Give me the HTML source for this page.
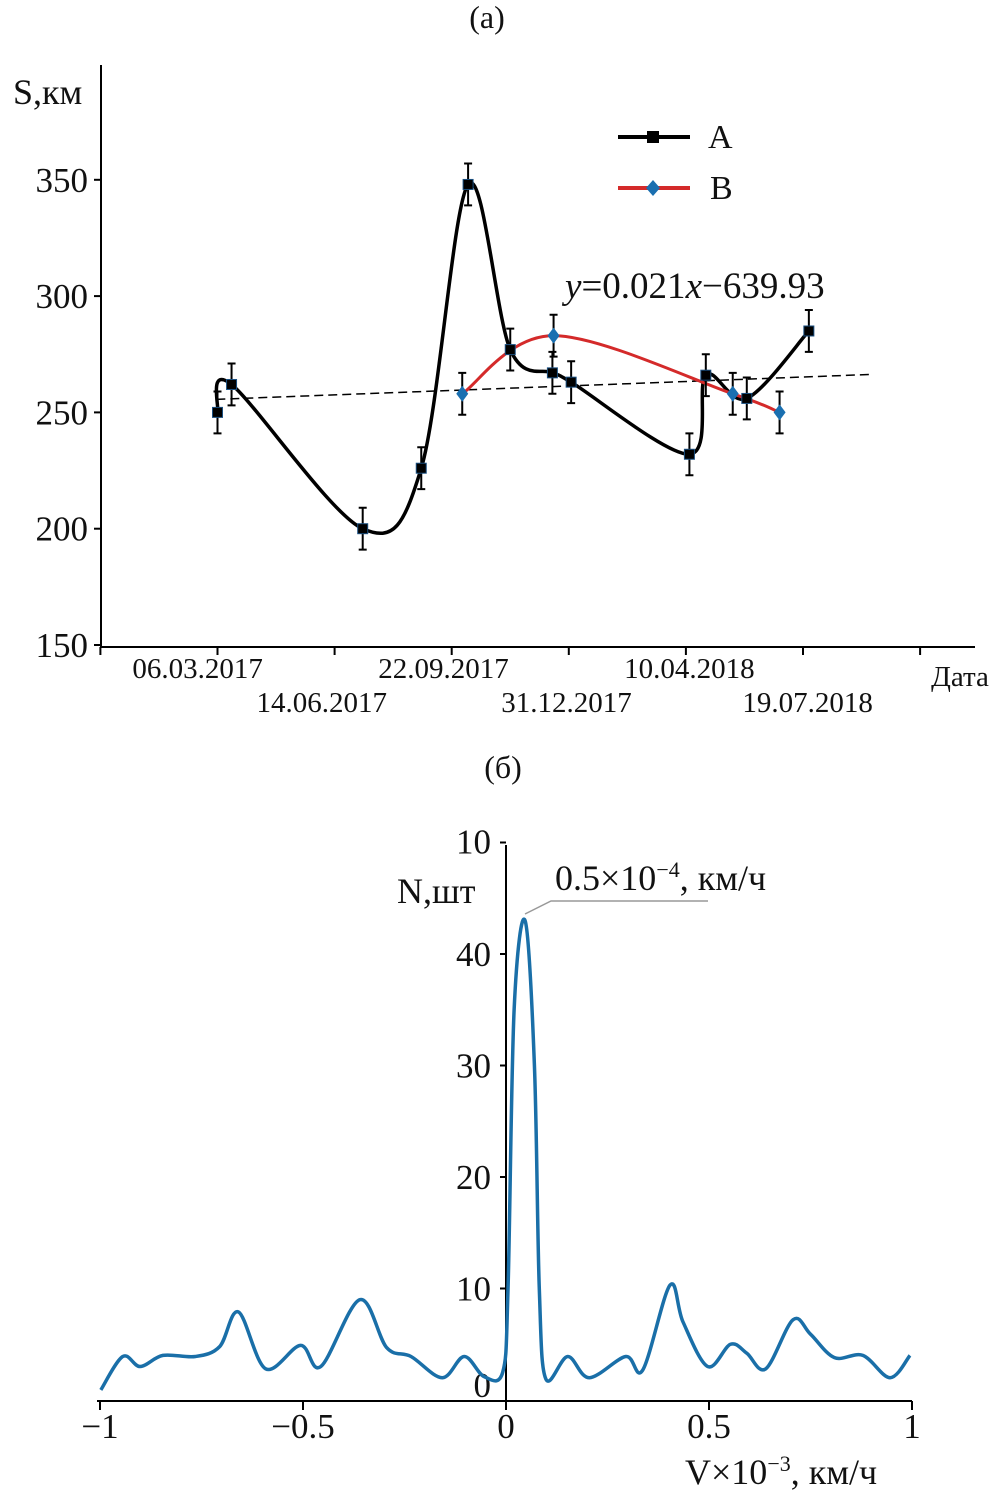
<!DOCTYPE html>
<html><head><meta charset="utf-8"><style>
html,body{margin:0;padding:0;background:#fff}
svg{display:block}
text{font-family:"Liberation Serif",serif;fill:#111}
</style></head><body>
<svg id="s" width="1004" height="1512" viewBox="0 0 1004 1512" xmlns="http://www.w3.org/2000/svg">
<text x="487" y="28" font-size="32" text-anchor="middle">(a)</text>
<text x="13" y="104" font-size="36">S,км</text>
<text x="960" y="686" font-size="29" text-anchor="middle">Дата</text>
<text x="565" y="298" font-size="37"><tspan font-style="italic">y</tspan>=0.021<tspan font-style="italic">x</tspan>−639.93</text>
<g>
<line x1="618" y1="137" x2="690" y2="137" stroke="#000" stroke-width="4"/>
<rect x="647" y="131" width="12" height="12" fill="#000"/>
<text x="708" y="148" font-size="34">A</text>
<line x1="618" y1="188" x2="690" y2="188" stroke="#d42a2a" stroke-width="4"/>
<path d="M653 180 L660 188 L653 196 L646 188Z" fill="#1a6fb0"/>
<text x="710" y="199" font-size="34">B</text>
</g>
<text x="503" y="778" font-size="32" text-anchor="middle">(б)</text>
<text x="397" y="903" font-size="36">N,шт</text>
<text x="555" y="890" font-size="36">0.5×10<tspan font-size="22" dy="-13">−4</tspan><tspan dy="13">, км/ч</tspan></text>
<path d="M525 914 L551 901 L708 901" stroke="#999" stroke-width="1.5" fill="none"/>
<text x="685" y="1484" font-size="36">V×10<tspan font-size="22" dy="-13">−3</tspan><tspan dy="13">, км/ч</tspan></text>
<g id="ga"></g><g id="gb"></g>
</svg>
<script>
// Panel (a) data
const aT=[1.0,1.12,2.24,2.74,3.14,3.50,3.86,4.02,5.03,5.17,5.52,6.05];
const aS=[250,262,200,226,348,277,267,263,232,266,256,285];
const bT=[3.09,3.87,5.40,5.80];
const bS=[258,283,258,250];
const errA=9;
const trendT=[0.99,6.57];
const trendS=[255.6,266.3];
const yTicksA=[150,200,250,300,350];
const dateLabels=["06.03.2017","14.06.2017","22.09.2017","31.12.2017","10.04.2018","19.07.2018"];
const dateT=[0.83,1.89,2.93,3.98,5.03,6.04];
// Panel (b) data
const vV=[-0.998,-0.944,-0.901,-0.845,-0.765,-0.705,-0.659,-0.592,-0.506,-0.456,-0.36,-0.294,-0.234,-0.157,-0.103,-0.054,-0.008,0.005,0.02,0.047,0.07,0.082,0.098,0.152,0.205,0.295,0.337,0.404,0.436,0.497,0.553,0.593,0.64,0.707,0.75,0.809,0.879,0.946,0.995];
const vN=[0.9,3.9,3.0,4.0,3.9,4.8,7.9,2.8,4.9,3.0,9.0,4.7,3.9,2.0,3.9,2.1,2.5,10,35,43,30,10,1.9,3.9,2.0,3.9,2.7,10.3,7.0,3.0,5.0,4.2,2.8,7.2,5.9,3.8,4.0,2.0,4.0];
const xTicksB=[-1,-0.5,0,0.5,1];
const xTickLabelsB=["−1","−0.5","0","0.5","1"];
const yTicksB=[0,10,20,30,40,50];
const yTickLabelsB=["0","10","20","30","40","10"];

const NS="http://www.w3.org/2000/svg";
function el(p,tag,at,txt){const e=document.createElementNS(NS,tag);for(const k in at)e.setAttribute(k,at[k]);if(txt!==undefined)e.textContent=txt;p.appendChild(e);return e;}
function spline(pts,tension){let d="M"+pts[0][0]+" "+pts[0][1];for(let i=0;i<pts.length-1;i++){const p0=pts[i-1]||pts[i],p1=pts[i],p2=pts[i+1],p3=pts[i+2]||p2;const c1x=p1[0]+(p2[0]-p0[0])/6*tension,c1y=p1[1]+(p2[1]-p0[1])/6*tension,c2x=p2[0]-(p3[0]-p1[0])/6*tension,c2y=p2[1]-(p3[1]-p1[1])/6*tension;d+=` C${c1x} ${c1y} ${c2x} ${c2y} ${p2[0]} ${p2[1]}`;}return d;}

const ga=document.getElementById('ga');
const xa=t=>100.4+117.1*t, ya=s=>645-(s-150)*2.326;
let ax=el(ga,'line',{x1:100,y1:647,x2:975,y2:647,stroke:'#000','stroke-width':2});

let ay=el(ga,'line',{x1:101,y1:65,x2:101,y2:648,stroke:'#000','stroke-width':2});

for(let i=0;i<8;i++){el(ga,'line',{x1:xa(i),y1:647,x2:xa(i),y2:655,stroke:'#000','stroke-width':2});}
yTicksA.forEach(v=>{el(ga,'line',{x1:94,y1:ya(v),x2:101,y2:ya(v),stroke:'#000','stroke-width':2});
const t=el(ga,'text',{x:88,y:ya(v)+12,'font-size':35,'text-anchor':'end'},String(v));
});
dateLabels.forEach((d,i)=>{const t=el(ga,'text',{x:xa(dateT[i]),y:i%2?712:678,'font-size':29,'text-anchor':'middle'},d);
});
const tr=el(ga,'line',{x1:xa(trendT[0]),y1:ya(trendS[0]),x2:xa(trendT[1]),y2:ya(trendS[1]),stroke:'#000','stroke-width':1.5,'stroke-dasharray':'9 5'});

const pa=el(ga,'path',{d:spline(aT.map((t,i)=>[xa(t),ya(aS[i])]),1),fill:'none',stroke:'#000','stroke-width':3.5});

const pb=el(ga,'path',{d:spline(bT.map((t,i)=>[xa(t),ya(bS[i])]),1),fill:'none',stroke:'#d42a2a','stroke-width':3});

function ebar(x,s){const y1=ya(s+errA),y2=ya(s-errA);el(ga,'path',{d:`M${x} ${y1}V${y2}M${x-4} ${y1}H${x+4}M${x-4} ${y2}H${x+4}`,stroke:'#000','stroke-width':2,fill:'none'});}
aT.forEach((t,i)=>{ebar(xa(t),aS[i]);const r=el(ga,'rect',{x:xa(t)-5,y:ya(aS[i])-5,width:10,height:10,fill:'#000',stroke:'#1a4f80','stroke-width':1});
});
bT.forEach((t,i)=>{ebar(xa(t),bS[i]);const x=xa(t),y=ya(bS[i]);const r=el(ga,'path',{d:`M${x} ${y-8}L${x+6} ${y}L${x} ${y+8}L${x-6} ${y}Z`,fill:'#1a6fb0'});
});

const gb=document.getElementById('gb');
const xb=v=>506+v*406, yb=n=>1400-n*11.15;
let bx=el(gb,'line',{x1:97,y1:1401,x2:912,y2:1401,stroke:'#000','stroke-width':2});

let by=el(gb,'line',{x1:506,y1:845,x2:506,y2:1401,stroke:'#000','stroke-width':2});

xTicksB.forEach((v,i)=>{el(gb,'line',{x1:xb(v),y1:1401,x2:xb(v),y2:1410,stroke:'#000','stroke-width':2});
const t=el(gb,'text',{x:xb(v),y:1438,'font-size':35,'text-anchor':'middle'},xTickLabelsB[i]);
});
yTicksB.forEach((v,i)=>{if(v>0)el(gb,'line',{x1:500,y1:yb(v),x2:506,y2:yb(v),stroke:'#000','stroke-width':2});
const t=el(gb,'text',{x:491,y:yb(v)+(v===0?-3:12)+(v===50?-1:0),'font-size':35,'text-anchor':'end'},yTickLabelsB[i]);
});
const pv=el(gb,'path',{d:spline(vV.map((v,i)=>[xb(v),yb(vN[i])]),1),fill:'none',stroke:'#1a6fa8','stroke-width':3.5});

</script>
</body></html>
